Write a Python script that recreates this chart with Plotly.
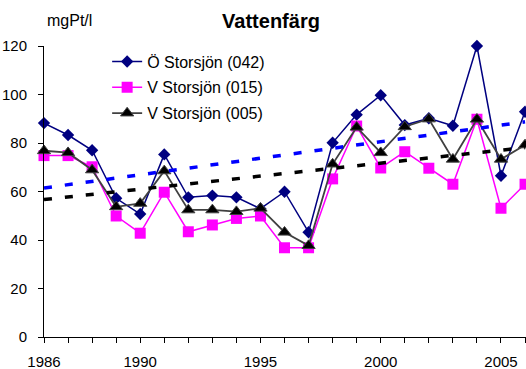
import numpy as np
import plotly.graph_objects as go

# Colour (mgPt/l) per year at three sampling stations
years = list(range(1986, 2007))
o_storsjon_042 = [88.2, 83.3, 77.0, 57.2, 50.7, 75.3, 57.6, 58.3, 57.6, 52.9, 59.9,
                  43.2, 80.1, 91.7, 99.7, 87.4, 90.2, 87.1, 120.0, 66.5, 92.9]
v_storsjon_015 = [74.8, 74.8, 70.2, 49.9, 42.8, 59.7, 43.4, 46.2, 48.9, 49.9, 36.8,
                  36.8, 65.2, 87.0, 69.7, 76.4, 69.6, 63.0, 89.8, 53.1, 63.0]
v_storsjon_005 = [76.8, 76.0, 68.9, 53.7, 55.1, 68.5, 52.4, 52.4, 51.7, 53.1, 43.2,
                  37.7, 71.3, 86.5, 76.0, 86.7, 89.9, 73.3, 89.8, 73.3, 79.2]

x_ticks = years
x_labels = [str(y) if y in (1986, 1990, 1995, 2000, 2005) else "" for y in years]
y_ticks = [0, 20, 40, 60, 80, 100, 120]

FONT = "Liberation Sans, Arial, sans-serif"


def linear_trend(xs, ys):
    k, m = np.polyfit(xs, ys, 1)
    return [k * x + m for x in xs]


fig = go.Figure()

fig.add_trace(go.Scatter(
    x=years, y=o_storsjon_042, name="Ö Storsjön (042)", mode="lines+markers",
    legendgroup="a",
    line=dict(color="#000080", width=1.5),
    marker=dict(symbol="diamond", size=9.5, color="#000080"),
    cliponaxis=False,
))
fig.add_trace(go.Scatter(
    x=years, y=v_storsjon_015, name="V Storsjön (015)", mode="lines+markers",
    legendgroup="b",
    line=dict(color="#FF00FF", width=1.5),
    marker=dict(symbol="square", size=11, color="#FF00FF"),
    cliponaxis=False,
))
fig.add_trace(go.Scatter(
    x=years, y=v_storsjon_005, name="V Storsjön (005)", mode="lines+markers",
    legendgroup="c",
    line=dict(color="#404040", width=1.8),
    marker=dict(symbol="triangle-up", size=11.5, color="#000000",
                line=dict(color="#404040", width=1)),
    cliponaxis=False,
))

# Linear trend lines
fig.add_trace(go.Scatter(
    x=years, y=linear_trend(years, o_storsjon_042), mode="lines", showlegend=False,
    line=dict(color="#0000FF", width=3.5, dash="8px,13px"), hoverinfo="skip",
))
fig.add_trace(go.Scatter(
    x=years, y=linear_trend(years, v_storsjon_005), mode="lines", showlegend=False,
    line=dict(color="#000000", width=3.5, dash="8px,13px"), hoverinfo="skip",
))

fig.update_layout(
    width=526, height=369,
    margin=dict(l=44, r=0, t=46, b=32),
    paper_bgcolor="white", plot_bgcolor="white",
    font=dict(family=FONT, color="black", size=15),
    title=dict(text="<b>Vattenfärg</b>", font=dict(size=20, family=FONT),
               xref="container", x=271 / 526, xanchor="center",
               yref="container", y=1 - 21 / 369, yanchor="middle"),
    legend=dict(x=0.131, y=1.005, xanchor="left", yanchor="top",
                bgcolor="rgba(0,0,0,0)", font=dict(size=16, family=FONT),
                tracegroupgap=2, traceorder="grouped"),
    annotations=[dict(text="mgPt/l", xref="paper", yref="paper",
                      x=0.002, y=(337 - 20) / 291, xanchor="left", yanchor="middle",
                      showarrow=False, font=dict(size=16, family=FONT))],
    showlegend=True,
)

fig.update_xaxes(
    range=[1986, 2006.04], tickmode="array", tickvals=x_ticks, ticktext=x_labels,
    ticks="outside", ticklen=5, tickwidth=1, tickcolor="black",
    showline=True, linecolor="black", linewidth=1, showgrid=False, zeroline=False,
    ticklabelstandoff=6, tickfont=dict(size=15, family=FONT), automargin=False,
)
fig.update_yaxes(
    range=[0, 120], tickmode="array", tickvals=y_ticks,
    ticks="outside", ticklen=5, tickwidth=1, tickcolor="black",
    showline=True, linecolor="black", linewidth=1, showgrid=False, zeroline=False,
    ticklabelstandoff=8, tickfont=dict(size=15, family=FONT), automargin=False,
)

fig.write_html("out.html")
